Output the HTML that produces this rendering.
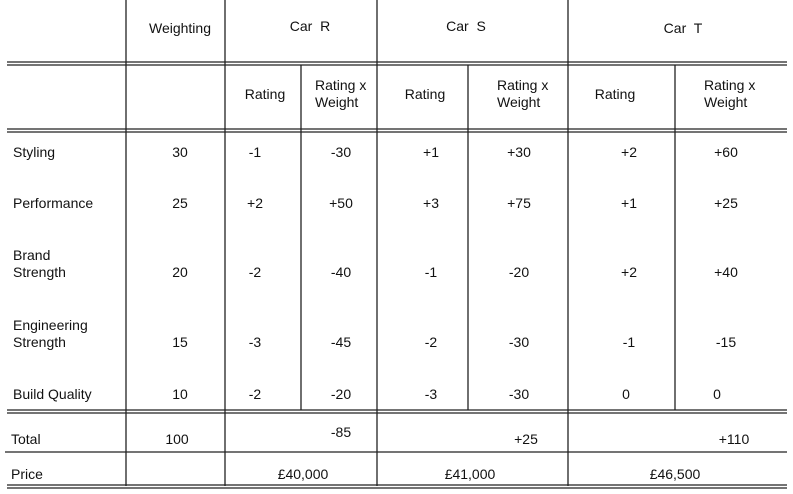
<!DOCTYPE html>
<html><head><meta charset="utf-8">
<style>
html,body{margin:0;padding:0;background:#fff;width:793px;height:494px;overflow:hidden}
svg{position:absolute;left:0;top:0}
text{font-family:"Liberation Sans",Arial,sans-serif;font-size:14px;fill:#111}
line{stroke:#222;stroke-width:1.3}
</style></head><body>
<svg width="793" height="494">
<g>
<line x1="126" y1="0" x2="126" y2="486"/>
<line x1="225" y1="0" x2="225" y2="486"/>
<line x1="377" y1="0" x2="377" y2="486"/>
<line x1="568" y1="0" x2="568" y2="486"/>
<line x1="301" y1="65" x2="301" y2="410"/>
<line x1="468" y1="65" x2="468" y2="410"/>
<line x1="675" y1="65" x2="675" y2="410"/>
<line x1="7" y1="62" x2="787" y2="62"/><line x1="7" y1="65" x2="787" y2="65"/>
<line x1="7" y1="129" x2="787" y2="129"/><line x1="7" y1="132" x2="787" y2="132"/>
<line x1="7" y1="410" x2="787" y2="410"/><line x1="7" y1="413" x2="787" y2="413"/>
<line x1="5" y1="452" x2="787" y2="452"/>
<line x1="7" y1="485" x2="787" y2="485"/><line x1="7" y1="488" x2="787" y2="488"/>
</g>
<g text-anchor="middle">
<text x="180" y="33">Weighting</text>
<text x="310" y="31" xml:space="preserve">Car  R</text>
<text x="466" y="31" xml:space="preserve">Car  S</text>
<text x="683" y="33" xml:space="preserve">Car  T</text>
<text x="265" y="99">Rating</text>
<text x="425" y="99">Rating</text>
<text x="615" y="99">Rating</text>
</g>
<g>
<text x="315" y="90">Rating x</text><text x="315" y="107">Weight</text>
<text x="497" y="90">Rating x</text><text x="497" y="107">Weight</text>
<text x="704" y="90">Rating x</text><text x="704" y="107">Weight</text>
</g>
<g>
<text x="13" y="157">Styling</text>
<text x="13" y="208">Performance</text>
<text x="13" y="260">Brand</text><text x="13" y="277">Strength</text>
<text x="13" y="330">Engineering</text><text x="13" y="347">Strength</text>
<text x="13" y="399">Build Quality</text>
<text x="11" y="444">Total</text>
<text x="11" y="479">Price</text>
</g>
<g text-anchor="middle">
<text x="180" y="157">30</text><text x="255" y="157">-1</text><text x="341" y="157">-30</text><text x="431" y="157">+1</text><text x="519" y="157">+30</text><text x="629" y="157">+2</text><text x="726" y="157">+60</text>
<text x="180" y="208">25</text><text x="255" y="208">+2</text><text x="341" y="208">+50</text><text x="431" y="208">+3</text><text x="519" y="208">+75</text><text x="629" y="208">+1</text><text x="726" y="208">+25</text>
<text x="180" y="277">20</text><text x="255" y="277">-2</text><text x="341" y="277">-40</text><text x="431" y="277">-1</text><text x="519" y="277">-20</text><text x="629" y="277">+2</text><text x="726" y="277">+40</text>
<text x="180" y="347">15</text><text x="255" y="347">-3</text><text x="341" y="347">-45</text><text x="431" y="347">-2</text><text x="519" y="347">-30</text><text x="629" y="347">-1</text><text x="726" y="347">-15</text>
<text x="180" y="399">10</text><text x="255" y="399">-2</text><text x="341" y="399">-20</text><text x="431" y="399">-3</text><text x="519" y="399">-30</text><text x="626" y="399">0</text><text x="717" y="399">0</text>
<text x="177" y="444">100</text>
<text x="341" y="437">-85</text>
<text x="526" y="444">+25</text>
<text x="734" y="444">+110</text>
<text x="303" y="479">£40,000</text>
<text x="470" y="479">£41,000</text>
<text x="675" y="479">£46,500</text>
</g>
</svg>
</body></html>
